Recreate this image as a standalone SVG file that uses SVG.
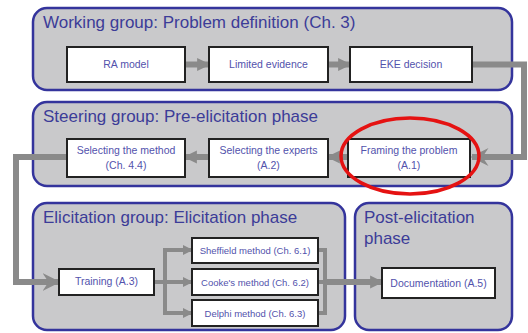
<svg xmlns="http://www.w3.org/2000/svg" width="528" height="333" viewBox="0 0 528 333">
  <defs>
    <style>
      .panel { fill: #c9c9cb; stroke: #34349c; stroke-width: 2.5; }
      .ptitle { font-family: "Liberation Sans", Arial, sans-serif; font-size: 17px; fill: #3c3c98; }
      .box { fill: #ffffff; stroke: #222222; stroke-width: 2; }
      .btext { font-family: "Liberation Sans", Arial, sans-serif; font-size: 10.5px; fill: #5252ac; text-anchor: middle; }
      .mtext { font-size: 9.5px; }
      .flow { fill: none; stroke: #8a8a8a; stroke-width: 6; stroke-linejoin: miter; }
      .thin { fill: none; stroke: #8a8a8a; stroke-width: 4; }
      .mark { fill: none; stroke: #e51212; stroke-width: 3.5; }
    </style>
    <marker id="head" viewBox="0 0 10 10" refX="9" refY="5" markerWidth="2.2" markerHeight="2.6" markerUnits="strokeWidth" orient="auto">
      <path d="M0,0 L10,5 L0,10 Z" fill="#8a8a8a"/>
    </marker>
    <marker id="headSm" viewBox="0 0 10 10" refX="9" refY="5" markerWidth="2.6" markerHeight="3" markerUnits="strokeWidth" orient="auto">
      <path d="M0,0 L10,5 L0,10 Z" fill="#8a8a8a"/>
    </marker>
    <marker id="chev" viewBox="0 0 12 12" refX="11" refY="6" markerWidth="3" markerHeight="3.4" markerUnits="strokeWidth" orient="auto">
      <path d="M0,0 L12,6 L0,12 L4,6 Z" fill="#8a8a8a"/>
    </marker>
  </defs>

  <rect width="528" height="333" fill="#ffffff"/>

  <!-- phase panels -->
  <g id="panel-working">
    <rect class="panel" x="33" y="8" width="479" height="82" rx="14"/>
    <text class="ptitle" x="43" y="28">Working group: Problem definition (Ch. 3)</text>
  </g>
  <g id="panel-steering">
    <rect class="panel" x="33" y="102" width="479" height="84" rx="14"/>
    <text class="ptitle" x="43" y="122">Steering group: Pre-elicitation phase</text>
  </g>
  <g id="panel-elicitation">
    <rect class="panel" x="33" y="203" width="312" height="127" rx="14"/>
    <text class="ptitle" x="43" y="223">Elicitation group: Elicitation phase</text>
  </g>
  <g id="panel-post">
    <rect class="panel" x="355" y="203" width="157" height="127" rx="14"/>
    <text class="ptitle" x="364" y="223">Post-elicitation</text>
    <text class="ptitle" x="364" y="244">phase</text>
  </g>

  <!-- connectors -->
  <g id="connectors">
    <line class="flow" x1="185" y1="64.5" x2="209" y2="64.5" marker-end="url(#head)"/>
    <line class="flow" x1="328" y1="64.5" x2="350" y2="64.5" marker-end="url(#head)"/>
    <polyline class="flow" points="472,64.5 524,64.5 524,157 472,157" marker-end="url(#chev)"/>
    <line class="flow" x1="348" y1="157" x2="328" y2="157" marker-end="url(#head)"/>
    <line class="flow" x1="209" y1="157" x2="185" y2="157" marker-end="url(#head)"/>
    <polyline class="flow" points="67,157 16,157 16,282 59,282" marker-end="url(#chev)"/>
    <polyline class="thin" points="154,282 165,282"/>
    <polyline class="thin" points="165,250 165,313"/>
    <line class="thin" x1="163" y1="250" x2="192" y2="250" marker-end="url(#headSm)"/>
    <line class="thin" x1="165" y1="282" x2="192" y2="282" marker-end="url(#headSm)"/>
    <line class="thin" x1="163" y1="313" x2="192" y2="313" marker-end="url(#headSm)"/>
    <polyline class="thin" points="318,250 325,250 325,313 318,313"/>
    <line class="thin" x1="318" y1="282" x2="325" y2="282"/>
    <line class="flow" x1="323" y1="282" x2="382" y2="282" marker-end="url(#head)"/>
  </g>

  <!-- problem definition steps -->
  <g id="ra-model">
    <rect class="box" x="67" y="47" width="118" height="35"/>
    <text class="btext" x="126" y="68">RA model</text>
  </g>
  <g id="limited-evidence">
    <rect class="box" x="209" y="47" width="119" height="35"/>
    <text class="btext" x="268.5" y="68">Limited evidence</text>
  </g>
  <g id="eke-decision">
    <rect class="box" x="350" y="47" width="122" height="35"/>
    <text class="btext" x="411" y="68">EKE decision</text>
  </g>

  <!-- pre-elicitation steps -->
  <g id="selecting-method">
    <rect class="box" x="67" y="139" width="118" height="38"/>
    <text class="btext" x="126" y="154">Selecting the method</text>
    <text class="btext" x="126" y="169">(Ch. 4.4)</text>
  </g>
  <g id="selecting-experts">
    <rect class="box" x="209" y="139" width="119" height="38"/>
    <text class="btext" x="268.5" y="154">Selecting the experts</text>
    <text class="btext" x="268.5" y="169">(A.2)</text>
  </g>
  <g id="framing-problem">
    <rect class="box" x="348" y="139" width="122" height="38"/>
    <text class="btext" x="409" y="154">Framing the problem</text>
    <text class="btext" x="409" y="169">(A.1)</text>
  </g>

  <!-- elicitation steps -->
  <g id="training">
    <rect class="box" x="59" y="269" width="95" height="26"/>
    <text class="btext" x="106.5" y="285">Training (A.3)</text>
  </g>
  <g id="sheffield">
    <rect class="box" x="192" y="238" width="126" height="25"/>
    <text class="btext mtext" x="255" y="254">Sheffield method (Ch. 6.1)</text>
  </g>
  <g id="cooke">
    <rect class="box" x="192" y="269" width="126" height="26"/>
    <text class="btext mtext" x="255" y="285.5">Cooke's method (Ch. 6.2)</text>
  </g>
  <g id="delphi">
    <rect class="box" x="192" y="300" width="126" height="26"/>
    <text class="btext mtext" x="255" y="316.5">Delphi method (Ch. 6.3)</text>
  </g>

  <!-- post-elicitation step -->
  <g id="documentation">
    <rect class="box" x="382" y="268" width="113" height="30"/>
    <text class="btext" x="438.5" y="287">Documentation (A.5)</text>
  </g>

  <!-- highlight ring -->
  <ellipse class="mark" cx="410" cy="156" rx="69" ry="38"/>
</svg>
